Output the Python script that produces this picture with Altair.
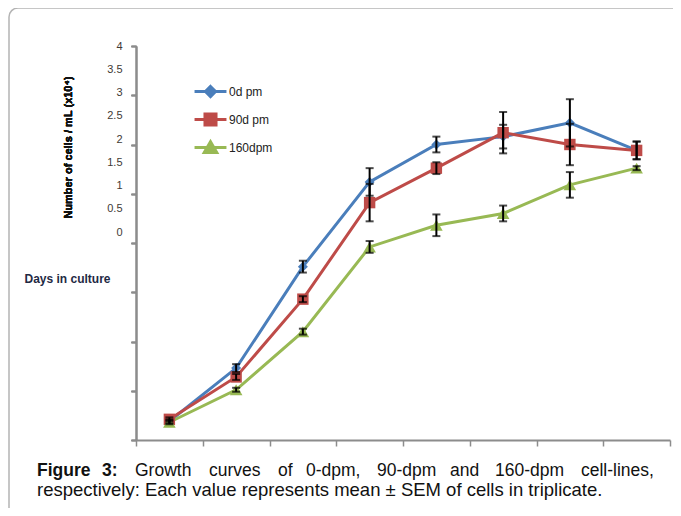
import altair as alt
import pandas as pd

# ---------------- data ----------------
days = [1, 2, 3, 4, 5, 6, 7, 8]
series_names = ["0d pm", "90d pm", "160dpm"]
mean_0 = [0.19, 0.73, 1.76, 2.62, 3.00, 3.08, 3.22, 2.94]
mean_90 = [0.21, 0.64, 1.43, 2.41, 2.76, 3.12, 3.00, 2.94]
mean_160 = [0.18, 0.51, 1.10, 1.96, 2.18, 2.30, 2.59, 2.76]
sem_0 = [0.02, 0.04, 0.06, 0.14, 0.08, 0.12, 0.24, 0.09]
sem_90 = [0.02, 0.03, 0.03, 0.19, 0.06, 0.21, 0.21, 0.09]
sem_160 = [0.02, 0.02, 0.03, 0.06, 0.11, 0.08, 0.13, 0.02]
y_tick_labels = [0, 0.5, 1, 1.5, 2, 2.5, 3, 3.5, 4]
y_title = "Number of cells / mL (x10⁴)"
x_title = "Days in culture"
caption_line1 = ["Figure", "3:", "Growth", "curves", "of", "0-dpm,", "90-dpm",
                 "and", "160-dpm", "cell-lines,"]
caption_line2 = "respectively: Each value represents mean ± SEM of cells in triplicate."

# ---------------- styles / layout ----------------
colors = ["#4A7EBB", "#BE4B48", "#98B954"]
shapes = ["diamond", "square", "triangle-up"]
marker_sizes = [100, 160, 150]
caption_line1_x = [37, 102, 135, 209, 278, 306, 377, 450, 495, 581]
caption_bold = [True, True] + [False] * 8
CAP_FONT = "Liberation Sans"
CAP_SIZE1 = 17.5
CAP_SIZE2 = 18.5
W, H = 534, 394
OX, OY = 136, 46  # plot origin in page pixels

rows = []
for name, m, s in zip(series_names, [mean_0, mean_90, mean_160], [sem_0, sem_90, sem_160]):
    for d, mv, sv in zip(days, m, s):
        rows.append({"day": d, "series": name, "mean": mv, "lo": mv - sv, "hi": mv + sv})
df = pd.DataFrame(rows)

x_ticks = [d - 0.5 for d in days] + [days[-1] + 0.5]
x_enc = alt.X("day:Q",
              scale=alt.Scale(domain=[x_ticks[0], x_ticks[-1]], nice=False, zero=False),
              axis=alt.Axis(values=x_ticks, labels=False, grid=False, tickSize=6,
                            tickColor="#8c8c8c", domainColor="#8c8c8c", domainWidth=2,
                            tickWidth=1.5, title=x_title, titleFont="Liberation Sans",
                            titleFontSize=12, titleFontWeight="bold", titleColor="#1f2a44",
                            titleAnchor="start", titleAlign="left", titleBaseline="middle",
                            titleX=24 - OX, titleY=278 - (OY + H)))
y_scale = alt.Scale(domain=[0, 4], nice=False, zero=False)
y_axis = alt.Axis(values=y_tick_labels, labels=False, grid=False, tickSize=5, orient="left",
                  tickColor="#8c8c8c", domainColor="#8c8c8c", domainWidth=1.5, tickWidth=1.5,
                  title=y_title, titleFont="Liberation Sans", titleFontSize=11,
                  titleFontWeight="bold", titleColor="#111", titleAngle=-90,
                  titleAlign="center", titleBaseline="middle",
                  titleX=68 - OX, titleY=147 - OY)
y_enc = alt.Y("mean:Q", scale=y_scale, axis=y_axis)


def sym(marker):
    return "M-1.33,0L1.33,0" + marker


legend_paths = [sym("M0,-0.42L0.42,0L0,0.42L-0.42,0Z"),
                sym("M-0.46,-0.46L0.46,-0.46L0.46,0.46L-0.46,0.46Z"),
                sym("M0,-0.48L0.52,0.42L-0.52,0.42Z")]

base = alt.Chart(df)
line_layers = []
for i, (name, col) in enumerate(zip(series_names, colors)):
    leg = alt.Legend(orient="none", legendX=61, legendY=32 + 28 * i, title=None,
                     padding=0, symbolSize=576, symbolType=legend_paths[i],
                     symbolFillColor=col, symbolStrokeColor=col, symbolStrokeWidth=3,
                     symbolOpacity=1, labelOffset=5, labelFont="Liberation Sans",
                     labelFontSize=12, labelColor="#222")
    line_layers.append(
        base.transform_filter(alt.datum.series == name).mark_line(strokeWidth=3).encode(
            x=x_enc, y=y_enc,
            color=alt.Color("series:N", scale=alt.Scale(domain=[name], range=[col]),
                            legend=leg)))

points = base.mark_point(filled=True, opacity=1).encode(
    x=x_enc, y=y_enc,
    fill=alt.Fill("series:N", scale=alt.Scale(domain=series_names, range=colors), legend=None),
    shape=alt.Shape("series:N", scale=alt.Scale(domain=series_names, range=shapes), legend=None),
    size=alt.Size("series:N", scale=alt.Scale(domain=series_names, range=marker_sizes),
                  legend=None))
errs = base.mark_errorbar(ticks=True, size=8, thickness=2, color="black").encode(
    x=x_enc, y=alt.Y("lo:Q", scale=y_scale, axis=y_axis), y2="hi:Q")

# tick-label axis (labels drawn where the original figure put them)
lab_df = pd.DataFrame({"v": y_tick_labels})
labels = alt.Chart(lab_df).mark_point(opacity=0).encode(
    y=alt.Y("v:Q", scale=alt.Scale(domain=[4 - H / 46.5, 4], nice=False, zero=False),
            axis=alt.Axis(values=y_tick_labels, orient="left", ticks=False, domain=False,
                          grid=False, title=None, labelPadding=14, labelExpr="datum.value + ''",
                          labelFont="Liberation Sans", labelFontSize=11, labelColor="#3f3a35",
                          labelBaseline="middle")))

frame = alt.Chart(pd.DataFrame({"a": [0]})).mark_rect(
    fillOpacity=0, stroke="#b4b4b4", strokeWidth=1.5, cornerRadius=9).encode(
    x=alt.value(9 - OX), x2=alt.value(W + 200), y=alt.value(8 - OY), y2=alt.value(H + 300))

cap_layers = []
for word, xp, b in zip(caption_line1, caption_line1_x, caption_bold):
    cap_layers.append(alt.Chart(pd.DataFrame({"t": [word]})).mark_text(
        align="left", baseline="alphabetic", font=CAP_FONT,
        fontSize=CAP_SIZE1, fontWeight="bold" if b else "normal", color="#111").encode(
        text="t:N", x=alt.value(xp - OX), y=alt.value(476 - OY)))
cap_layers.append(alt.Chart(pd.DataFrame({"t": [caption_line2]})).mark_text(
    align="left", baseline="alphabetic", font=CAP_FONT,
    fontSize=CAP_SIZE2, color="#111").encode(
    text="t:N", x=alt.value(37 - OX), y=alt.value(496 - OY)))

chart = alt.layer(frame, labels, *line_layers, points, errs, *cap_layers).resolve_scale(
    y="independent", color="independent").properties(
    width=W, height=H,
    autosize=alt.AutoSizeParams(type="none"),
    padding={"left": OX - 8, "top": OY - 8, "right": 665 - (OX - 8) - W,
             "bottom": 500 - (OY - 8) - H},
).configure_view(stroke=None)

chart.save("out.html", embed_options={"renderer": "svg", "actions": False})
